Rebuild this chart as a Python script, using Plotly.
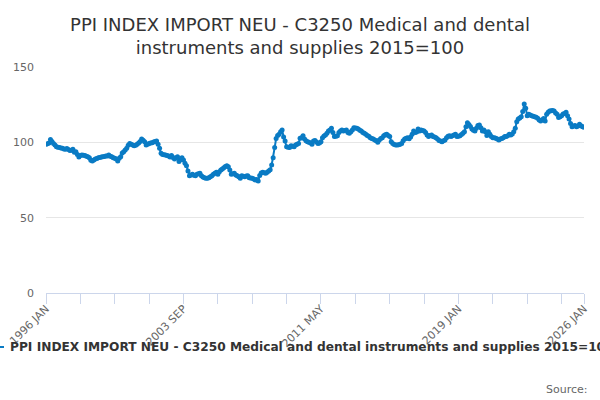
import plotly.graph_objects as go

MONTHS = ["JAN", "FEB", "MAR", "APR", "MAY", "JUN", "JUL", "AUG", "SEP", "OCT", "NOV", "DEC"]
START_YEAR = 1996

values = [
    # 1996
    98.7, 99.0, 99.6, 101.8, 100.6, 99.3, 98.2, 97.1, 96.8, 96.5, 96.2, 96.0,
    # 1997
    95.6, 95.4, 95.9, 95.2, 94.5, 94.8, 95.4, 93.4, 93.8, 92.0, 90.3, 91.2,
    # 1998
    91.6, 91.4, 91.2, 90.8, 90.5, 89.8, 88.1, 87.6, 88.2, 88.9, 89.3, 89.8,
    # 1999
    90.0, 90.2, 90.5, 90.6, 90.9, 91.0, 91.6, 90.8, 90.5, 89.8, 89.5, 88.9,
    # 2000
    87.6, 89.4, 90.5, 93.0, 93.8, 94.9, 96.0, 98.0, 99.3, 98.7, 98.2, 97.8,
    # 2001
    98.0, 98.7, 99.6, 100.6, 102.2, 101.4, 100.4, 98.2, 98.8, 99.3, 99.5, 99.8,
    # 2002
    100.2, 100.6, 100.9, 98.7, 96.0, 92.7, 92.0, 91.8, 91.6, 91.2, 90.9, 90.2,
    # 2003
    91.2, 90.0, 88.9, 89.8, 90.5, 87.2, 88.5, 89.8, 88.3, 86.1, 84.5, 81.0,
    # 2004
    77.9, 78.4, 78.8, 78.2, 77.9, 78.8, 79.2, 79.4, 77.9, 77.0, 76.5, 76.2,
    # 2005
    76.1, 76.5, 77.2, 77.9, 78.8, 79.5, 80.1, 78.8, 80.5, 81.6, 82.3, 83.2,
    # 2006
    84.0, 84.5, 83.8, 81.6, 78.8, 79.2, 79.4, 78.3, 77.8, 77.2, 76.1, 77.9,
    # 2007
    77.5, 77.2, 77.6, 77.9, 76.5, 76.3, 76.1, 75.7, 75.0, 75.3, 74.3, 78.0,
    # 2008
    79.6, 80.1, 79.8, 79.4, 80.1, 81.0, 81.8, 85.0, 89.8, 96.5, 102.5, 104.6,
    # 2009
    105.3, 107.0, 108.2, 103.5, 100.9, 97.1, 96.8, 96.5, 97.8, 97.4, 97.1, 98.2,
    # 2010
    98.8, 99.3, 102.7, 103.1, 104.4, 102.2, 101.0, 100.4, 100.0, 99.5, 98.7, 100.9,
    # 2011
    101.2, 100.2, 99.3, 99.6, 100.4, 103.1, 104.2, 104.9, 106.0, 107.5, 108.2, 109.3,
    # 2012
    106.6, 103.8, 104.0, 104.4, 106.6, 107.5, 108.2, 107.5, 107.8, 108.2, 106.6, 106.0,
    # 2013
    107.0, 108.2, 109.7, 109.5, 109.3, 108.8, 108.0, 107.5, 106.6, 106.0, 105.3, 104.6,
    # 2014
    104.0, 103.1, 102.5, 102.2, 101.5, 101.0, 100.0, 101.5, 102.5, 103.1, 104.4, 105.0,
    # 2015
    105.3, 104.5, 103.8, 100.4, 99.3, 98.5, 98.2, 98.2, 98.4, 98.7, 99.3, 101.0,
    # 2016
    102.2, 102.7, 103.1, 102.4, 103.5, 105.3, 107.5, 106.6, 106.9, 108.8, 107.5, 108.2,
    # 2017
    107.8, 107.5, 106.6, 104.9, 103.8, 104.5, 104.9, 103.8, 103.5, 103.1, 102.2, 101.2,
    # 2018
    100.9, 100.4, 101.0, 101.5, 103.1, 104.0, 104.4, 103.8, 104.4, 104.9, 105.3, 103.8,
    # 2019
    104.0, 104.4, 105.2, 106.0, 107.1, 110.4, 113.0, 111.8, 110.5, 108.8, 108.0, 107.5,
    # 2020
    109.3, 111.1, 111.5, 109.7, 107.5, 108.2, 107.0, 104.6, 107.0, 105.3, 103.8, 103.1,
    # 2021
    103.1, 102.7, 102.2, 101.5, 102.2, 102.5, 103.1, 103.8, 103.9, 104.4, 105.3, 104.9,
    # 2022
    105.5, 107.1, 109.3, 113.7, 115.5, 116.2, 117.0, 120.4, 125.5, 122.6, 117.7, 118.6,
    # 2023
    118.2, 117.7, 117.3, 117.0, 116.6, 116.0, 114.8, 114.2, 115.0, 115.9, 114.2, 118.6,
    # 2024
    120.0, 120.8, 121.0, 121.2, 120.8, 119.5, 118.6, 116.4, 117.0, 117.7, 118.8, 119.2,
    # 2025
    119.9, 117.7, 115.5, 112.5, 110.4, 110.8, 111.1, 110.4, 110.8, 112.0, 111.0, 110.4,
    # 2026
    110.0,
]

categories = [f"{START_YEAR + i // 12} {MONTHS[i % 12]}" for i in range(len(values))]

tick_every = 23
tick_idx = list(range(0, len(values) - 1, tick_every)) + [len(values) - 1]
label_idx = {0, 92, 184, 276, len(values) - 1}
tick_vals = [categories[i] for i in tick_idx]
tick_text = [categories[i] if i in label_idx else "" for i in tick_idx]

SERIES_NAME = "PPI INDEX IMPORT NEU - C3250 Medical and dental instruments and supplies 2015=100"
LINE_COLOR = "#0a7bc4"
FONT = "DejaVu Sans"

fig = go.Figure()
fig.add_trace(go.Scatter(
    x=categories, y=values, mode="lines+markers", name=SERIES_NAME,
    line=dict(color=LINE_COLOR, width=2),
    marker=dict(color=LINE_COLOR, size=5),
    showlegend=False,
))

W, H = 600, 400
ml, mr, mt, mb = 46, 16, 67, 107
PW, PH = W - ml - mr, H - mt - mb


def px_x(x):
    return (x - ml) / PW


def px_y(y):
    return (H - mb - y) / PH


fig.update_layout(
    width=W, height=H,
    margin=dict(l=ml, r=mr, t=mt, b=mb, autoexpand=False),
    paper_bgcolor="white", plot_bgcolor="white",
    font=dict(family=FONT, color="#666666", size=11),
    title=dict(
        text="PPI INDEX IMPORT NEU - C3250 Medical and dental<br>instruments and supplies 2015=100",
        x=0.5, xanchor="center", y=1 - 31 / H, yanchor="top",
        font=dict(family=FONT, size=18, color="#333333"),
    ),
    xaxis=dict(
        type="category", range=[0, len(values) - 1],
        tickmode="array", tickvals=tick_vals, ticktext=tick_text,
        tickangle=-45, ticks="outside", ticklen=10, tickcolor="#ccd6eb", tickwidth=1,
        ticklabelstandoff=-6,
        showline=True, linecolor="#ccd6eb", linewidth=1,
        showgrid=False, zeroline=False,
        tickfont=dict(family=FONT, size=11, color="#666666"),
    ),
    yaxis=dict(
        range=[0, 150], tickvals=[0, 50, 100, 150],
        showgrid=True, gridcolor="#e6e6e6", gridwidth=1,
        zeroline=False, showline=False, ticks="",
        ticklabelstandoff=11,
        tickfont=dict(family=FONT, size=11, color="#666666"),
    ),
)

# legend drawn as symbol + text (it overflows the frame in the original)
fig.add_shape(type="line", xref="paper", yref="paper",
              x0=px_x(-12), x1=px_x(4), y0=px_y(347), y1=px_y(347),
              line=dict(color=LINE_COLOR, width=2))
fig.add_annotation(
    text="<b>" + SERIES_NAME + "</b>", xref="paper", yref="paper",
    x=px_x(8), xanchor="left", y=px_y(347), yanchor="middle",
    showarrow=False, font=dict(family=FONT, size=12.2, color="#333333"),
)
fig.add_annotation(
    text="Source:", xref="paper", yref="paper",
    x=px_x(590), xanchor="right", y=px_y(389), yanchor="middle",
    showarrow=False, font=dict(family=FONT, size=11, color="#666666"),
)

fig.write_html(
    "out.html",
    config={"displayModeBar": False},
    post_script="document.body.style.margin='0';document.body.style.overflow='hidden';",
)
